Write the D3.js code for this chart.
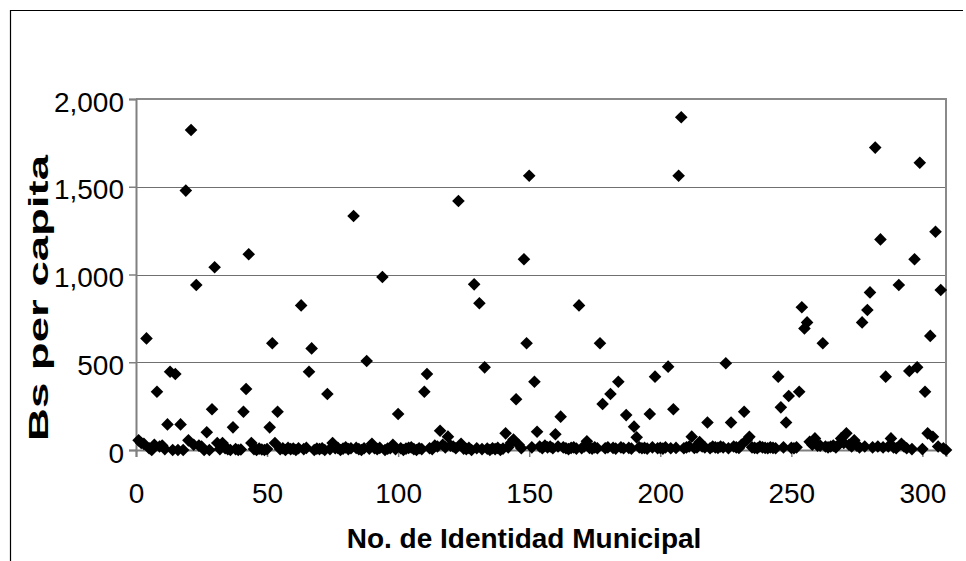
<!DOCTYPE html>
<html>
<head>
<meta charset="utf-8">
<script src="https://cdn.jsdelivr.net/npm/d3@7"></script>
<style>
  html, body { margin: 0; padding: 0; background: #fff; }
  svg { display: block; }
  text { font-family: "Liberation Sans", Arial, sans-serif; fill: #000; }
</style>
</head>
<body>
<svg id="chart" width="966" height="561"></svg>
<script>
// ---- Data ----
const xTicks = [0, 50, 100, 150, 200, 250, 300];
const yTicks = [0, 500, 1000, 1500, 2000];
const xTitle = "No. de Identidad Municipal";
const yTitle = "Bs per capita";
// Bs per capita for municipal identity numbers 1..309
const values = [
  55, 40, 35, 636, 10, 0, 30, 332, 20, 25,
  5, 146, 446, 0, 433, 0, 146, 0, 1478, 55,
  1823, 30, 940, 25, 20, 0, 101, 0, 232, 1041,
  40, 5, 40, 10, 5, 0, 129, 5, 0, 3,
  218, 348, 1115, 40, 5, 0, 8, 3, 0, 5,
  129, 608, 40, 218, 5, 10, 0, 12, 5, 8,
  0, 10, 824, 5, 12, 446, 579, 0, 8, 5,
  10, 0, 319, 5, 40, 10, 12, 0, 8, 15,
  5, 10, 1333, 12, 5, 0, 10, 507, 8, 35,
  10, 5, 12, 986, 0, 8, 10, 30, 5, 205,
  10, 0, 8, 12, 15, 5, 0, 10, 5, 332,
  433, 10, 5, 25, 20, 110, 30, 15, 76, 25,
  20, 10, 1419, 35, 8, 5, 12, 0, 944, 10,
  836, 5, 471, 8, 0, 10, 5, 12, 0, 8,
  95, 15, 40, 60, 289, 30, 10, 1087, 608, 1563,
  15, 389, 104, 20, 10, 25, 15, 20, 10, 90,
  20, 190, 15, 10, 5, 12, 15, 8, 824, 10,
  20, 50, 12, 8, 15, 10, 608, 262, 10, 15,
  319, 12, 8, 389, 15, 10, 199, 12, 8, 133,
  72, 15, 10, 12, 8, 205, 15, 418, 10, 12,
  8, 15, 475, 10, 232, 12, 1563, 1896, 10, 15,
  20, 76, 12, 15, 45, 20, 15, 157, 10, 20,
  15, 12, 20, 15, 494, 10, 157, 20, 15, 12,
  30, 218, 57, 75, 15, 12, 10, 20, 15, 12,
  10, 15, 12, 10, 418, 243, 15, 157, 308, 12,
  10, 15, 332, 813, 693, 727, 47, 30, 66, 25,
  25, 608, 20, 15, 20, 25, 15, 30, 66, 40,
  95, 30, 20, 55, 25, 15, 727, 20, 798, 898,
  15, 1723, 20, 1200, 15, 418, 20, 66, 15, 10,
  940, 35, 20, 10, 450, 5, 1087, 471, 1637, 5,
  332, 95, 650, 75, 1244, 20, 912, 10, 0
];
const points = values.map((v, i) => ({ id: i + 1, v }));

// ---- Layout ----
const svg = d3.select("#chart");
const plot = { left: 136, right: 946, top: 99, bottom: 450 };
const x = d3.scaleLinear().domain([0, 309]).range([plot.left, plot.right]);
const y = d3.scaleLinear().domain([0, 2000]).range([plot.bottom, plot.top]);

// outer chart frame (only top and left visible)
svg.append("line").attr("x1", 10).attr("x2", 963).attr("y1", 10.5).attr("y2", 10.5)
  .attr("stroke", "#000").attr("stroke-width", 1.2);
svg.append("line").attr("x1", 10.5).attr("x2", 10.5).attr("y1", 10).attr("y2", 561)
  .attr("stroke", "#000").attr("stroke-width", 1.2);

// gridlines
svg.append("g").selectAll("line").data(yTicks.filter(d => d > 0 && d < 2000)).join("line")
  .attr("x1", plot.left).attr("x2", plot.right)
  .attr("y1", d => Math.round(y(d)) + 0.5).attr("y2", d => Math.round(y(d)) + 0.5)
  .attr("stroke", "#707070").attr("stroke-width", 1.2);

// plot area border (top & right)
svg.append("path")
  .attr("d", `M${plot.left},${plot.top} L${plot.right},${plot.top} L${plot.right},${plot.bottom}`)
  .attr("fill", "none").attr("stroke", "#8a8a8a").attr("stroke-width", 2);

// axes
const yAxis = d3.axisLeft(y).tickValues(yTicks).tickSize(7).tickPadding(6)
  .tickFormat(d3.format(","));
const xAxis = d3.axisBottom(x).tickValues(xTicks).tickSize(7).tickPadding(8)
  .tickFormat(d3.format("d"));

const gy = svg.append("g").attr("transform", `translate(${plot.left},0)`).call(yAxis);
const gx = svg.append("g").attr("transform", `translate(0,${plot.bottom})`).call(xAxis);
[gx, gy].forEach(g => {
  g.select(".domain").attr("stroke", "#808080").attr("stroke-width", 2);
  g.selectAll(".tick line").attr("stroke", "#808080").attr("stroke-width", 1.5);
  g.selectAll(".tick text").attr("font-family", "Liberation Sans, Arial, sans-serif")
    .attr("font-size", 28).attr("fill", "#000");
});
gy.selectAll(".tick text").attr("dy", 0).attr("y", 12).attr("x", -12);
gx.selectAll(".tick text").attr("dy", 0).attr("y", 53);

// markers (diamonds)
const r = 6.3;
const diamond = `M0,${-r}L${r},0L0,${r}L${-r},0Z`;
svg.append("g").selectAll("path").data(points).join("path")
  .attr("transform", d => `translate(${x(d.id)},${y(d.v)})`)
  .attr("d", diamond)
  .attr("fill", "#000");

// axis titles
svg.append("text")
  .attr("x", 524).attr("y", 548)
  .attr("text-anchor", "middle")
  .attr("font-size", 28).attr("font-weight", "bold")
  .text(xTitle);

svg.append("text")
  .attr("transform", "translate(48,298) rotate(-90)")
  .attr("text-anchor", "middle")
  .attr("font-size", 27).attr("font-weight", "bold")
  .attr("textLength", 286).attr("lengthAdjust", "spacingAndGlyphs")
  .text(yTitle);
</script>
</body>
</html>
